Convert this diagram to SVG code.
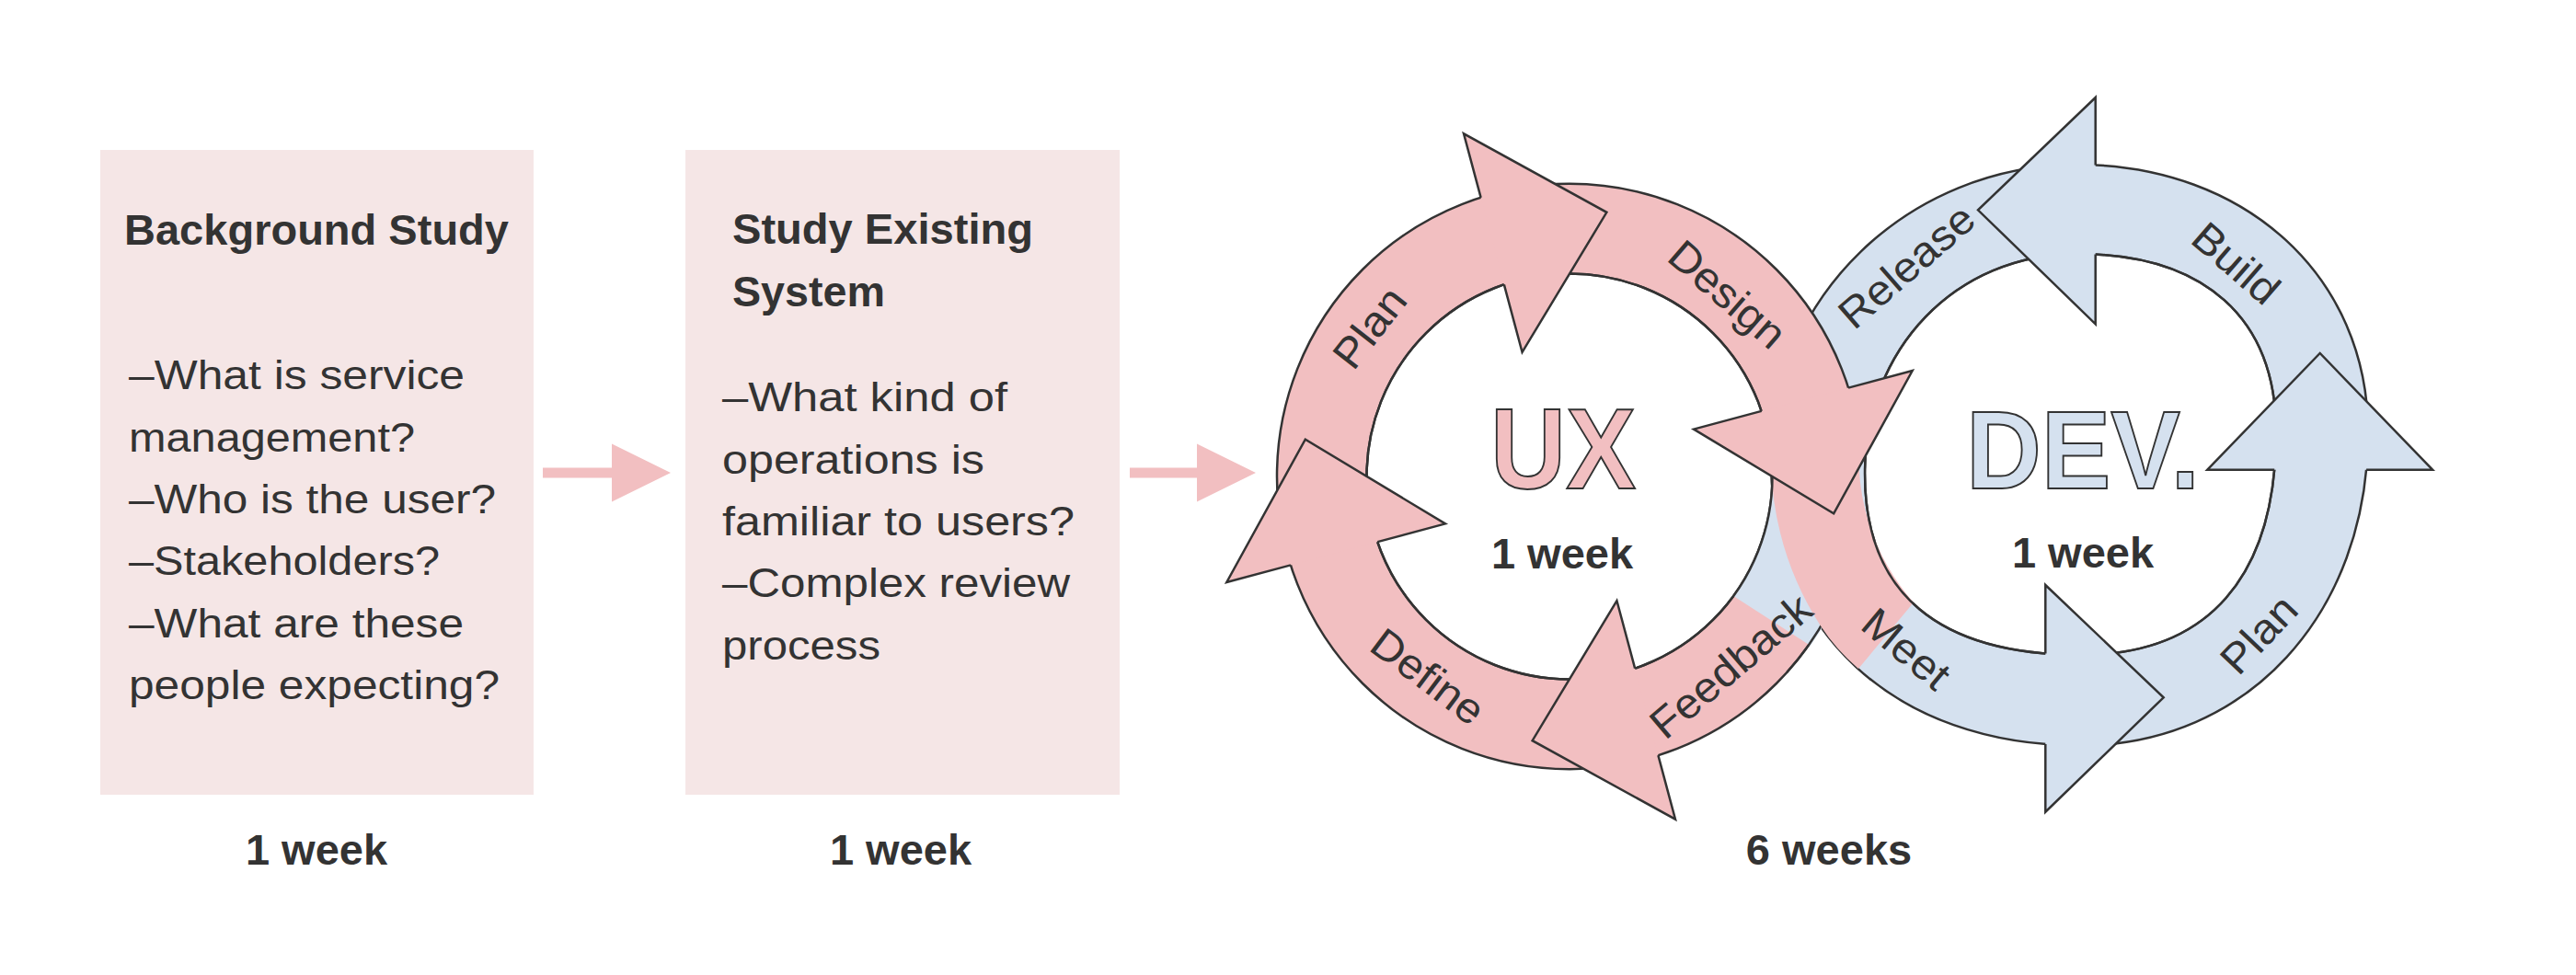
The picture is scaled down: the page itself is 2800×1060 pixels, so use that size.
<svg xmlns="http://www.w3.org/2000/svg" width="2800" height="1060" viewBox="0 0 2800 1060">
<defs>
<style>
.box{fill:#F5E6E6}
.t{font-family:"Liberation Sans",Arial,Helvetica,sans-serif;fill:#333333}
.title{font-size:47px;font-weight:bold}
.body{font-size:45px}
.wk{font-size:47px;font-weight:bold}
.lbl{font-size:46px}
.pink{fill:#F2BFC1}
.blue{fill:#D5E1EF}
.ol{fill:none;stroke:#333333;stroke-width:2.5;stroke-linejoin:miter}
.ring{stroke:#333333;stroke-width:2.5;fill-rule:evenodd}
.conn{fill:#F2BFC1}
.big{font-family:"Liberation Sans",Arial,Helvetica,sans-serif;font-weight:bold;stroke:#333333;stroke-width:2}
</style>
<g id="uxHead">
<polygon class="pink" points="389.96,5.79 260.65,127.13 144.32,-7.18"/>
<polyline class="ol" points="318,2 389.96,5.79 260.65,127.13 144.32,-7.18 220.46,-3.16"/>
</g>
</defs>
<rect width="2800" height="1060" fill="#FFFFFF"/>

<g id="box-background">
<rect class="box" x="109" y="163" width="471" height="701"/>
<text class="t title" x="135" y="266" textLength="418" lengthAdjust="spacingAndGlyphs">Background Study</text>
<text class="t body" x="140" y="423.3" textLength="365" lengthAdjust="spacingAndGlyphs">–What is service</text>
<text class="t body" x="140" y="490.6" textLength="311" lengthAdjust="spacingAndGlyphs">management?</text>
<text class="t body" x="140" y="557.9" textLength="399" lengthAdjust="spacingAndGlyphs">–Who is the user?</text>
<text class="t body" x="140" y="625.2" textLength="338" lengthAdjust="spacingAndGlyphs">–Stakeholders?</text>
<text class="t body" x="140" y="692.5" textLength="364" lengthAdjust="spacingAndGlyphs">–What are these</text>
<text class="t body" x="140" y="759.8" textLength="403" lengthAdjust="spacingAndGlyphs">people expecting?</text>
<text class="t wk" x="344" y="940" text-anchor="middle">1 week</text>
</g>

<g id="box-existing">
<rect class="box" x="745" y="163" width="472" height="701"/>
<text class="t title" x="796" y="265" textLength="327" lengthAdjust="spacingAndGlyphs">Study Existing</text>
<text class="t title" x="796" y="332.7" textLength="166" lengthAdjust="spacingAndGlyphs">System</text>
<text class="t body" x="785" y="447.3" textLength="310" lengthAdjust="spacingAndGlyphs">–What kind of</text>
<text class="t body" x="785" y="514.6" textLength="285" lengthAdjust="spacingAndGlyphs">operations is</text>
<text class="t body" x="785" y="581.9" textLength="383" lengthAdjust="spacingAndGlyphs">familiar to users?</text>
<text class="t body" x="785" y="649.2" textLength="378" lengthAdjust="spacingAndGlyphs">–Complex review</text>
<text class="t body" x="785" y="716.5" textLength="172" lengthAdjust="spacingAndGlyphs">process</text>
<text class="t wk" x="979" y="940" text-anchor="middle">1 week</text>
</g>

<g id="connectors">
<polygon class="conn" points="590,508.5 665,508.5 665,482.5 729,514 665,545.5 665,519.5 590,519.5"/>
<polygon class="conn" points="1228,508.5 1301,508.5 1301,482.5 1365,514 1301,545.5 1301,519.5 1228,519.5"/>
</g>

<g id="cycles">
<path id="dev-ring" class="ring blue" d="M2258,179 C2441.3,179 2574,301.2 2574,470 C2574,667.5 2442.5,810.5 2261,810.5 C2059.4,810.5 1925,686.3 1925,500 C1925,323.5 2074.9,179 2258,179 Z M2258,276 C2396.2,276 2474,345.8 2474,470 C2474,627.3 2399.8,712 2262,712 C2106.9,712 2027,645 2027,515 C2027,378.8 2126.3,276 2258,276 Z"/>
<path id="ux-ring" class="ring pink" d="M2024,518 A318,318 0 1,1 1388,518 A318,318 0 1,1 2024,518 Z M1926.5,518 A220.5,220.5 0 1,0 1485.5,518 A220.5,220.5 0 1,0 1926.5,518 Z"/>
<path class="blue" d="M1924.35,487.3 L2022.9,473.5 A320,320 0 0,1 1967.9,701.9 L1884.2,647.9 A220.5,220.5 0 0,0 1924.35,487.3 Z"/>
<path class="ol" d="M1986.8,667.3 A318,318 0 0,1 1942.3,730.8"/>
<path class="pink" d="M1926.3,470 A335,335 0 0,0 1978.6,680 Q1995.3,705.7 2020,727 L2080,655 A240,240 0 0,1 2021.9,470 Z"/>
<path class="ol" d="M2258,276 C2396.2,276 2474,345.8 2474,470 C2474,627.3 2399.8,712 2262,712 C2106.9,712 2027,645 2027,515 C2027,378.8 2126.3,276 2258,276 Z"/>
<circle class="ol" cx="1706" cy="518" r="220.5"/>
</g>

<g id="dev-heads">
<polygon class="blue" points="2277.7,106 2150,228.3 2277.7,352.3"/>
<polyline class="ol" points="2277.7,179.5 2277.7,106 2150,228.3 2277.7,352.3 2277.7,276.5"/>
<polygon class="blue" points="2399.3,510.7 2521.7,384 2644.1,510.7"/>
<polyline class="ol" points="2472.2,510.7 2399.3,510.7 2521.7,384 2644.1,510.7 2572.1,510.7"/>
<polygon class="blue" points="2223.3,636 2351.7,758.3 2223.3,882.7"/>
<polyline class="ol" points="2223.3,710.6 2223.3,636 2351.7,758.3 2223.3,882.7 2223.3,809"/>
</g>

<g id="ux-heads">
<use href="#uxHead" transform="translate(1706 518) rotate(-108)"/>
<use href="#uxHead" transform="translate(1706 518) rotate(-18)"/>
<use href="#uxHead" transform="translate(1706 518) rotate(72)"/>
<use href="#uxHead" transform="translate(1706 518) rotate(162)"/>
</g>

<g id="ux-cycle-labels">
<text class="big" x="1699" y="531" text-anchor="middle" textLength="158" lengthAdjust="spacingAndGlyphs" style="font-size:124px;fill:#F2BFC1">UX</text>
<text class="t wk" x="1698" y="618" text-anchor="middle">1 week</text>
<text class="t lbl" transform="translate(1488.3 355.8) rotate(-52)" x="0" y="16.4" text-anchor="middle" textLength="98" lengthAdjust="spacingAndGlyphs">Plan</text>
<text class="t lbl" transform="translate(1878 319.5) rotate(41)" x="0" y="16.4" text-anchor="middle" textLength="152" lengthAdjust="spacingAndGlyphs">Design</text>
<text class="t lbl" transform="translate(1552.5 735) rotate(37)" x="0" y="16.4" text-anchor="middle" textLength="141" lengthAdjust="spacingAndGlyphs">Define</text>
<text class="t lbl" transform="translate(1880.9 723.7) rotate(-40.4)" x="0" y="16.4" text-anchor="middle" textLength="214" lengthAdjust="spacingAndGlyphs">Feedback</text>
</g>

<g id="dev-cycle-labels">
<text class="big" x="2264" y="531" text-anchor="middle" textLength="254" lengthAdjust="spacingAndGlyphs" style="font-size:121px;fill:#D5E1EF">DEV.</text>
<text class="t wk" x="2264" y="617" text-anchor="middle">1 week</text>
<text class="t lbl" transform="translate(2072 289) rotate(-41)" x="0" y="16.4" text-anchor="middle" textLength="179" lengthAdjust="spacingAndGlyphs">Release</text>
<text class="t lbl" transform="translate(2430.8 285.8) rotate(41)" x="0" y="16.4" text-anchor="middle" textLength="109" lengthAdjust="spacingAndGlyphs">Build</text>
<text class="t lbl" transform="translate(2454.8 689.3) rotate(-46.5)" x="0" y="16.4" text-anchor="middle" textLength="98" lengthAdjust="spacingAndGlyphs">Plan</text>
<text class="t lbl" transform="translate(2072.5 705) rotate(40)" x="0" y="16.4" text-anchor="middle" textLength="109" lengthAdjust="spacingAndGlyphs">Meet</text>
</g>

<g id="total">
<text class="t wk" x="1988" y="940" text-anchor="middle">6 weeks</text>
</g>
</svg>
